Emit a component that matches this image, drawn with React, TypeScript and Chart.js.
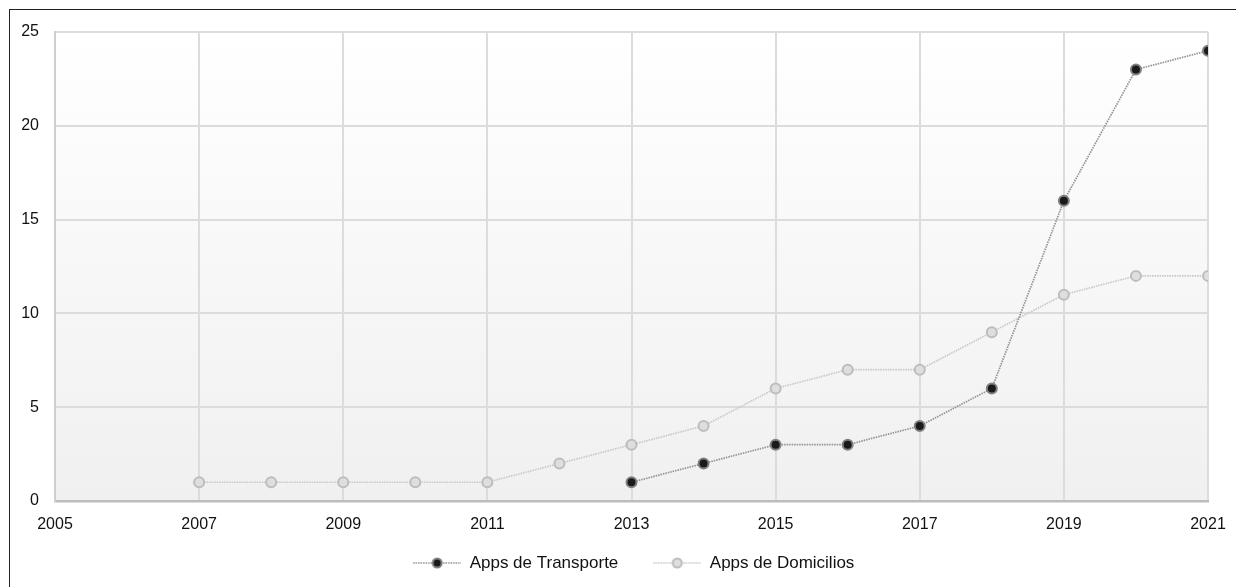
import { useEffect, useRef } from "react";
import { Chart, registerables } from "chart.js";

Chart.register(...registerables);

const seriesNames = ["Apps de Transporte", "Apps de Domicilios"];
const transporteYears = [2013, 2014, 2015, 2016, 2017, 2018, 2019, 2020, 2021];
const transporteValues = [1, 2, 3, 3, 4, 6, 16, 23, 24];
const domiciliosYears = [2007, 2008, 2009, 2010, 2011, 2012, 2013, 2014, 2015, 2016, 2017, 2018, 2019, 2020, 2021];
const domiciliosValues = [1, 1, 1, 1, 1, 2, 3, 4, 6, 7, 7, 9, 11, 12, 12];
const xRange = [2005, 2021];
const xStep = 2;
const yRange = [0, 25];
const yStep = 5;

const FONT = "'Liberation Sans', Arial, Helvetica, sans-serif";

const styles = [
  { line: "#939393", fill: "#1a1a1a", border: "#808080" },
  { line: "#c8c8c8", fill: "#dedede", border: "#bdbdbd" },
];

function makeLegendImage(s: { line: string; fill: string; border: string }) {
  const c = document.createElement("canvas");
  c.width = 73;
  c.height = 14;
  const ctx = c.getContext("2d")!;
  ctx.strokeStyle = s.line;
  ctx.lineWidth = 1.6;
  ctx.setLineDash([1.5, 1]);
  ctx.beginPath();
  ctx.moveTo(25, 7);
  ctx.lineTo(73, 7);
  ctx.stroke();
  ctx.setLineDash([]);
  ctx.beginPath();
  ctx.arc(49, 7, 4.5, 0, Math.PI * 2);
  ctx.fillStyle = s.fill;
  ctx.fill();
  ctx.lineWidth = 2;
  ctx.strokeStyle = s.border;
  ctx.stroke();
  return c;
}

const bgPlugin = {
  id: "plotBg",
  beforeDraw(chart: any) {
    const { ctx, chartArea } = chart;
    if (!chartArea) return;
    const g = ctx.createLinearGradient(0, chartArea.top, 0, chartArea.bottom);
    g.addColorStop(0, "#ffffff");
    g.addColorStop(1, "#f0f0f0");
    ctx.save();
    ctx.fillStyle = g;
    ctx.fillRect(chartArea.left, chartArea.top, chartArea.right - chartArea.left, chartArea.bottom - chartArea.top);
    ctx.restore();
  },
};

export default function App() {
  const ref = useRef<HTMLCanvasElement | null>(null);

  useEffect(() => {
    if (!ref.current) return;
    const images = styles.map(makeLegendImage);
    const chart = new Chart(ref.current, {
      type: "line",
      data: {
        datasets: [
          {
            label: seriesNames[0],
            data: transporteYears.map((x, i) => ({ x, y: transporteValues[i] })),
            borderColor: styles[0].line,
            borderWidth: 1.7,
            borderDash: [1.5, 1],
            pointBackgroundColor: styles[0].fill,
            pointBorderColor: styles[0].border,
            pointBorderWidth: 2,
            pointRadius: 5,
            tension: 0,
          },
          {
            label: seriesNames[1],
            data: domiciliosYears.map((x, i) => ({ x, y: domiciliosValues[i] })),
            borderColor: styles[1].line,
            borderWidth: 1.7,
            borderDash: [1.5, 1],
            pointBackgroundColor: styles[1].fill,
            pointBorderColor: styles[1].border,
            pointBorderWidth: 2,
            pointRadius: 5,
            tension: 0,
          },
        ],
      },
      options: {
        animation: false,
        responsive: true,
        maintainAspectRatio: false,
        layout: { padding: { left: 11, top: 22, right: 14.5, bottom: 5.5 } },
        font: { family: FONT },
        scales: {
          x: {
            type: "linear",
            min: xRange[0],
            max: xRange[1],
            ticks: {
              stepSize: xStep,
              color: "#111",
              font: { family: FONT, size: 16 },
              padding: 14,
              maxRotation: 0,
              callback: (v: any) => String(v),
            },
            grid: { color: "#dcdcdc", lineWidth: 2, drawTicks: false },
            border: { color: "#bdbdbd", width: 2.5 },
            afterFit: (scale: any) => {
              scale.height = 43.5;
              scale.paddingRight = 28;
            },
          },
          y: {
            min: yRange[0],
            max: yRange[1],
            ticks: {
              stepSize: yStep,
              color: "#111",
              font: { family: FONT, size: 16 },
              padding: 16,
            },
            grid: { color: "#dcdcdc", lineWidth: 2, drawTicks: false },
            border: { color: "#cfcfcf", width: 2 },
            afterFit: (scale: any) => {
              scale.width = 34;
              scale.paddingTop = 10;
              scale.paddingBottom = 10;
            },
          },
        },
        plugins: {
          legend: {
            position: "bottom",
            labels: {
              usePointStyle: true,
              pointStyleWidth: 73,
              padding: 10,
              color: "#111",
              font: { family: FONT, size: 17 },
              generateLabels: (c: any) => {
                const items = (Chart.defaults.plugins.legend.labels as any).generateLabels(c);
                return items.map((it: any, i: number) => ({ ...it, pointStyle: images[i] }));
              },
            },
          },
          tooltip: { enabled: false },
        },
      },
      plugins: [bgPlugin],
    } as any);
    return () => chart.destroy();
  }, []);

  return (
    <div
      style={{
        position: "fixed",
        left: 9,
        top: 9,
        width: 1227,
        height: 578,
        borderTop: "1px solid #222",
        borderLeft: "1px solid #222",
        boxSizing: "border-box",
      }}
    >
      <div style={{ position: "relative", width: 1226, height: 577 }}>
        <canvas ref={ref} />
      </div>
    </div>
  );
}
